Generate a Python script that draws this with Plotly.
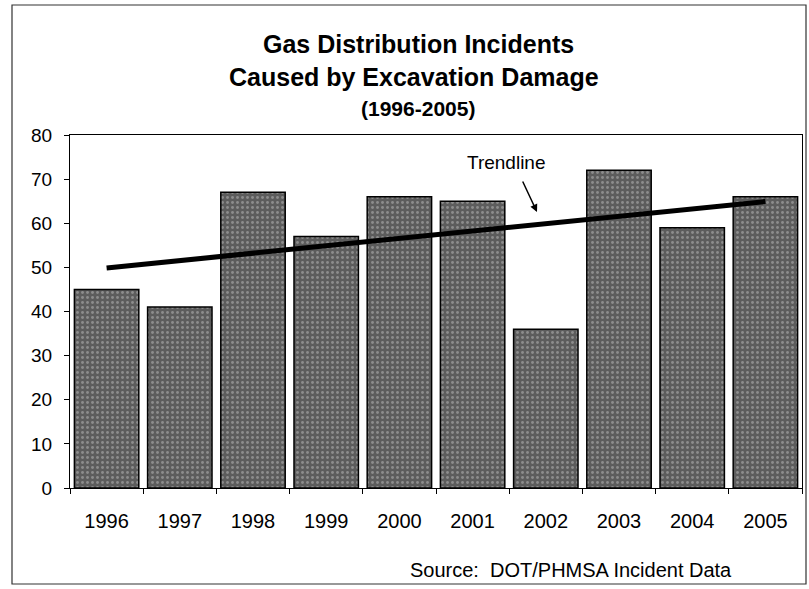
import numpy as np
import plotly.graph_objects as go

years = ["1996", "1997", "1998", "1999", "2000", "2001", "2002", "2003", "2004", "2005"]
incidents = [45, 41, 67, 57, 66, 65, 36, 72, 59, 66]
y_ticks = [0, 10, 20, 30, 40, 50, 60, 70, 80]

# Linear trendline (least squares over the data)
idx = np.arange(len(years))
slope, intercept = np.polyfit(idx, incidents, 1)
trend_x = [years[0], years[-1]]
trend_y = [intercept + slope * idx[0], intercept + slope * idx[-1]]

W, H = 809, 589
L, R, T, B = 70, 7, 135, 101
pw, ph = W - L - R, H - T - B

def px_x(p):
    return (p - L) / pw

def px_y(p):
    return (H - B - p) / ph

fig = go.Figure()
fig.add_trace(go.Bar(
    x=years, y=incidents,
    marker=dict(
        color="#5c5c5c",
        line=dict(color="black", width=1.5),
        pattern=dict(shape=".", fgcolor="#bdbdbd", bgcolor="#5c5c5c", size=5, solidity=0.25),
    ),
    showlegend=False,
))
fig.add_trace(go.Scatter(
    x=trend_x, y=trend_y, mode="lines",
    line=dict(color="black", width=5),
    showlegend=False,
))

font = "Liberation Sans, Arial, sans-serif"

def label(text, x, y, size):
    return dict(text=text, xref="paper", yref="paper", x=px_x(x), y=px_y(y),
                xanchor="center", yanchor="middle", showarrow=False, font=dict(size=size))

fig.update_layout(
    width=W, height=H,
    margin=dict(l=L, r=R, t=T, b=B),
    paper_bgcolor="white", plot_bgcolor="white",
    bargap=0.12,
    font=dict(family=font, color="black", size=19),
    xaxis=dict(
        type="category", showline=True, linecolor="black", linewidth=1, mirror=True,
        ticks="outside", ticklen=5, tickcolor="black", tickson="boundaries",
        tickfont=dict(size=20), ticklabelstandoff=15, showgrid=False,
    ),
    yaxis=dict(
        range=[0, 80], tickvals=y_ticks, showline=True, linecolor="black", linewidth=1,
        mirror=True, ticks="outside", ticklen=5, tickcolor="black",
        tickfont=dict(size=19), ticklabelstandoff=8, showgrid=False, zeroline=False,
    ),
    annotations=[
        label("<b>Gas Distribution Incidents</b>", 418, 44, 25),
        label("<b>Caused by Excavation Damage</b>", 414, 77, 25),
        label("<b>(1996-2005)</b>", 418, 108, 21),
        label("Trendline", 506, 162, 19),
        dict(text="", xref="paper", yref="paper", x=px_x(537), y=px_y(212),
             ax=-15, ay=-32, showarrow=True, arrowhead=2, arrowsize=1, arrowwidth=1.5,
             arrowcolor="black", standoff=0, startstandoff=0),
        label("Source:  DOT/PHMSA Incident Data", 571, 570, 20),
    ],
    shapes=[
        dict(type="rect", xref="paper", yref="paper",
             x0=px_x(12), x1=px_x(806), y0=px_y(584), y1=px_y(5),
             line=dict(color="#333333", width=1.2), layer="below"),
    ],
)

fig.write_html("out.html", config={"displayModeBar": False},
               post_script="document.body.style.margin='0';")
